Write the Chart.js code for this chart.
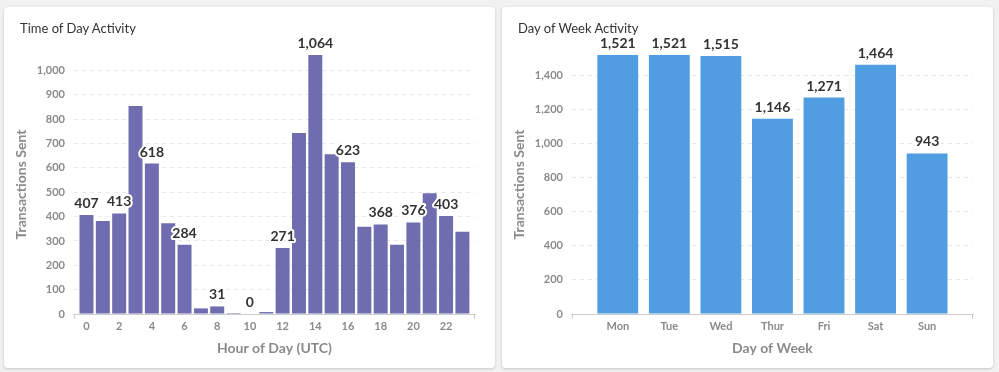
<!DOCTYPE html>
<html>
<head>
<meta charset="utf-8">
<script src="https://cdn.jsdelivr.net/npm/chart.js@4.4.1/dist/chart.umd.min.js"></script>
<style>
  body { margin: 0; background: #f1f1f1; width: 999px; height: 372px; overflow: hidden; font-family: Lato, sans-serif; }
  .card { position: absolute; top: 7px; width: 491px; height: 361px; background: #fff; border-radius: 4px; box-shadow: 0 1px 3px rgba(0,0,0,0.18); }
  #card1 { left: 4px; }
  #card2 { left: 502px; }
  .title { position: absolute; left: 16px; top: 13px; font-size: 13px; line-height: 16px; color: #333; }
  canvas { display: block; }
</style>
</head>
<body>
<div class="card" id="card1">
  <canvas id="hourChart" width="491" height="361"></canvas>
  <div class="title">Time of Day Activity</div>
</div>
<div class="card" id="card2">
  <canvas id="dayChart" width="491" height="361"></canvas>
  <div class="title">Day of Week Activity</div>
</div>
<script>
// hour of day (UTC)
const hourLabels = ["0","1","2","3","4","5","6","7","8","9","10","11","12","13","14","15","16","17","18","19","20","21","22","23"];
const hourValues = [407, 382, 413, 855, 618, 373, 284, 23, 31, 4, 0, 8, 271, 744, 1064, 656, 623, 358, 368, 284, 376, 496, 403, 338];

// day of week
const dayLabels = ["Mon", "Tue", "Wed", "Thur", "Fri", "Sat", "Sun"];
const dayValues = [1521, 1521, 1515, 1146, 1271, 1464, 943];

const tickColor = "#8a8a8a";
const gridColor = "#e8e8e8";
const axisColor = "#cccccc";

// value labels above bars, white halo round the text
const barLabels = {
  id: "barLabels",
  afterDatasetsDraw(chart, args, opts) {
    const ctx = chart.ctx;
    const meta = chart.getDatasetMeta(0);
    const values = chart.data.datasets[0].data;
    ctx.save();
    ctx.font = "bold 14px Lato";
    ctx.textAlign = "center";
    ctx.textBaseline = "alphabetic";
    ctx.lineWidth = 4;
    ctx.lineJoin = "round";
    ctx.strokeStyle = "#fff";
    ctx.fillStyle = "#333";
    meta.data.forEach((bar, i) => {
      if (i % opts.every !== 0) return;
      const txt = values[i].y.toLocaleString("en-US");
      ctx.strokeText(txt, bar.x, bar.y - 7);
      ctx.fillText(txt, bar.x, bar.y - 7);
    });
    ctx.restore();
  }
};

// little end ticks on the x axis line
const axisEnds = {
  id: "axisEnds",
  afterDraw(chart) {
    const { ctx, chartArea } = chart;
    ctx.save();
    ctx.strokeStyle = axisColor;
    ctx.lineWidth = 1;
    ctx.beginPath();
    [chartArea.left + 0.5, chartArea.right - 0.5].forEach(x => {
      ctx.moveTo(x, chartArea.bottom);
      ctx.lineTo(x, chartArea.bottom + 5);
    });
    ctx.stroke();
    ctx.restore();
  }
};

function makeChart(id, labels, values, opts) {
  const n = labels.length;
  return new Chart(document.getElementById(id), {
    type: "bar",
    plugins: [barLabels, axisEnds],
    data: {
      datasets: [{
        data: values.map((v, i) => ({ x: i, y: v })),
        backgroundColor: opts.color,
        categoryPercentage: opts.catPct,
        barPercentage: 0.9,
      }]
    },
    options: {
      responsive: false,
      animation: false,
      layout: { padding: { top: 48, left: 9, right: 20, bottom: 7 } },
      plugins: {
        legend: { display: false },
        tooltip: { enabled: false },
        barLabels: { every: opts.every },
      },
      scales: {
        x: {
          type: "linear",
          offset: false,
          min: -0.5 - opts.pad,
          max: n - 0.5 + opts.pad,
          afterBuildTicks: s => {
            s.ticks = labels.map((l, i) => ({ value: i })).filter(t => t.value % opts.every === 0);
          },
          grid: { display: false, drawTicks: false },
          border: { display: true, color: axisColor },
          ticks: {
            autoSkip: false,
            maxRotation: 0,
            padding: 6,
            color: tickColor,
            font: { family: "Lato", size: 11, weight: "bold" },
            callback: v => labels[v],
          },
          title: {
            display: true,
            text: opts.xTitle,
            color: tickColor,
            font: { family: "Lato", size: 14, weight: "bold" },
            padding: { top: 1, bottom: 4 },
          },
        },
        y: {
          min: 0,
          max: Math.max(...values),
          afterBuildTicks: s => {
            s.ticks = s.ticks.filter(t => t.value % opts.step === 0);
          },
          afterFit: s => { s.width -= 8; },
          grid: {
            drawTicks: false,
            color: c => (c.tick && c.tick.value === 0 ? "transparent" : gridColor),
          },
          border: { display: false, dash: [4, 4] },
          ticks: {
            stepSize: opts.step,
            padding: 9,
            color: tickColor,
            font: { family: "Lato", size: 11, weight: "bold" },
          },
          title: {
            display: true,
            text: "Transactions Sent",
            color: tickColor,
            font: { family: "Lato", size: 14, weight: "bold" },
            padding: { top: 0, bottom: 6 },
          },
        },
      },
    },
  });
}

makeChart("hourChart", hourLabels, hourValues, {
  color: "#6f6caf", catPct: 0.95, every: 2, pad: 0.27, step: 100, xTitle: "Hour of Day (UTC)"
});
makeChart("dayChart", dayLabels, dayValues, {
  color: "#509de2", catPct: 0.88, every: 1, pad: 0.39, step: 200, xTitle: "Day of Week"
});
</script>
</body>
</html>
